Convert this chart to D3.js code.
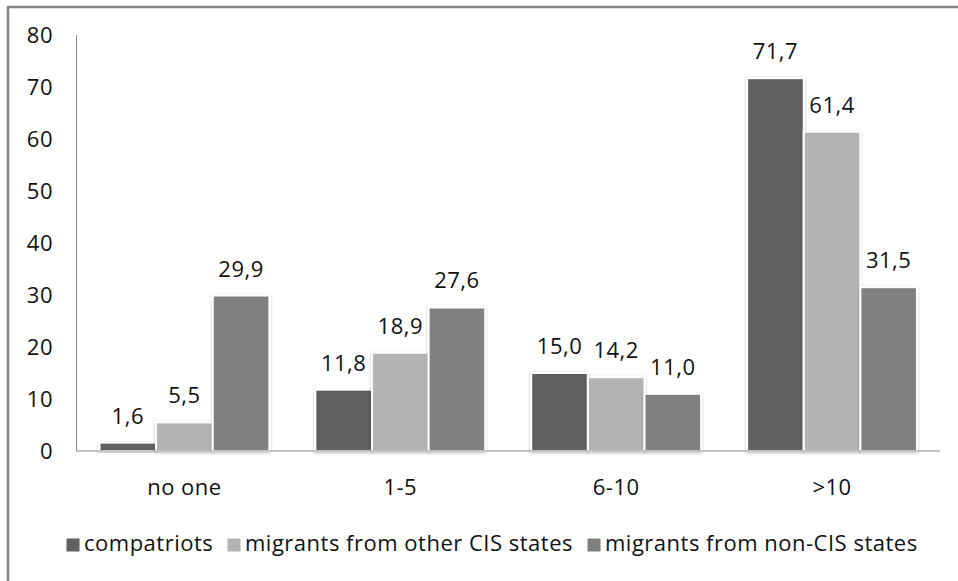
<!DOCTYPE html>
<html>
<head>
<meta charset="utf-8">
<script src="https://cdn.jsdelivr.net/npm/d3@7"></script>
<style>
  body { margin: 0; background: #fff; }
  text { font-family: "Open Sans", sans-serif; fill: #111; letter-spacing: 0.5px; }
</style>
</head>
<body>
<script>
// data
var categories = ["no one", "1-5", "6-10", ">10"];
var seriesNames = ["compatriots", "migrants from other CIS states", "migrants from non-CIS states"];
var compatriots = [1.6, 11.8, 15.0, 71.7];
var otherCIS = [5.5, 18.9, 14.2, 61.4];
var nonCIS = [29.9, 27.6, 11.0, 31.5];
var yTicks = [0, 10, 20, 30, 40, 50, 60, 70, 80];

var colors = ["#616161", "#b3b3b3", "#808080"];
var allSeries = [compatriots, otherCIS, nonCIS];

var W = 958, H = 581;
var fs = "22px";
var svg = d3.select("body").append("svg")
  .attr("width", W)
  .attr("height", H);

var defs = svg.append("defs");
var f = defs.append("filter").attr("id", "shadow")
  .attr("x", "-20%").attr("y", "-20%").attr("width", "140%").attr("height", "140%");
f.append("feDropShadow").attr("dx", 0).attr("dy", 1).attr("stdDeviation", 1.5)
  .attr("flood-color", "#000").attr("flood-opacity", 0.25);

// outer frame (cut by the window on right and bottom)
svg.append("rect")
  .attr("x", 8).attr("y", 7)
  .attr("width", 1000).attr("height", 700)
  .attr("fill", "none")
  .attr("stroke", "#868686")
  .attr("stroke-width", 2.5);

var pLeft = 76.5, pRight = 940, pTop = 35, pBottom = 451;

var y = d3.scaleLinear().domain([0, 80]).range([pBottom, pTop]);
var x0 = d3.scaleBand().domain(categories).range([pLeft, pRight])
  .paddingInner(0.213).paddingOuter(0.1065);
var x1 = d3.scaleBand().domain(d3.range(3)).range([0, x0.bandwidth()]);

// y labels
svg.append("g").selectAll("text")
  .data(yTicks)
  .enter()
  .append("text")
  .attr("x", 53)
  .attr("y", function(d) { return y(d); })
  .attr("dy", "0.35em")
  .attr("text-anchor", "end")
  .style("font-size", fs)
  .text(function(d) { return d; });

// bars
var groups = svg.selectAll(".grp")
  .data(categories)
  .enter()
  .append("g")
  .attr("class", "grp")
  .attr("transform", function(d) { return "translate(" + x0(d) + ",0)"; });

groups.selectAll("rect")
  .data(function(d, i) { return allSeries.map(function(s, j) { return {s: j, v: s[i]}; }); })
  .enter()
  .append("rect")
  .attr("x", function(d) { return x1(d.s); })
  .attr("y", function(d) { return y(d.v); })
  .attr("width", x1.bandwidth())
  .attr("height", function(d) { return pBottom - y(d.v); })
  .attr("fill", function(d) { return colors[d.s]; })
  .attr("stroke", "#fff")
  .attr("stroke-width", 2)
  .attr("filter", "url(#shadow)");

groups.selectAll(".lbl")
  .data(function(d, i) { return allSeries.map(function(s, j) { return {s: j, v: s[i]}; }); })
  .enter()
  .append("text")
  .attr("class", "lbl")
  .attr("x", function(d) { return x1(d.s) + x1.bandwidth() / 2; })
  .attr("y", function(d) { return y(d.v) - 19; })
  .attr("text-anchor", "middle")
  .style("font-size", fs)
  .text(function(d) { return d.v.toFixed(1).replace(".", ","); });

// axes lines
svg.append("line")
  .attr("x1", pLeft).attr("x2", pLeft)
  .attr("y1", pTop).attr("y2", pBottom)
  .attr("stroke", "#888").attr("stroke-width", 1);
svg.append("line")
  .attr("x1", pLeft).attr("x2", pRight)
  .attr("y1", pBottom).attr("y2", pBottom)
  .attr("stroke", "#888").attr("stroke-width", 1);

// category labels
svg.append("g").selectAll("text")
  .data(categories)
  .enter()
  .append("text")
  .attr("x", function(d) { return x0(d) + x0.bandwidth() / 2; })
  .attr("y", 487)
  .attr("dy", "0.35em")
  .attr("text-anchor", "middle")
  .style("font-size", fs)
  .text(function(d) { return d; });

// legend
var legendX = [66, 227, 587];
var leg = svg.append("g").selectAll("g")
  .data(seriesNames)
  .enter()
  .append("g")
  .attr("transform", function(d, i) { return "translate(" + legendX[i] + ",538)"; });
leg.append("rect")
  .attr("width", 14).attr("height", 14)
  .attr("fill", function(d, i) { return colors[i]; })
  .attr("stroke", "#fff").attr("stroke-width", 1);
leg.append("text")
  .attr("x", 18)
  .attr("y", 13)
  .style("font-size", fs)
  .text(function(d) { return d; });
</script>
</body>
</html>
